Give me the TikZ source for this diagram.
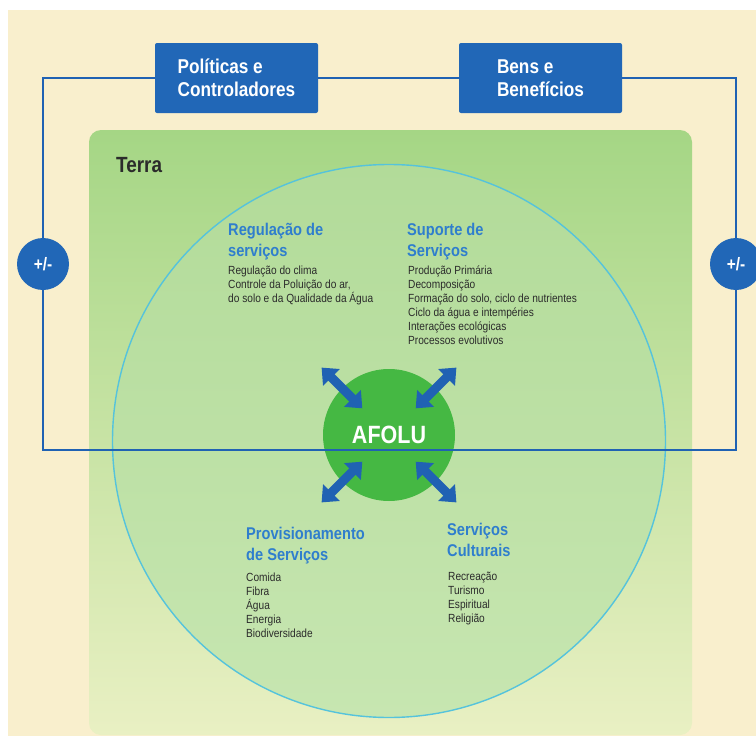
\documentclass[tikz,border=0pt]{standalone}
\usepackage{fontspec}
\setmainfont{Liberation Sans}[FakeStretch=0.86]
\usetikzlibrary{arrows.meta,calc}

\definecolor{cream}{HTML}{F9EFCD}
\definecolor{boxblue}{HTML}{2167B7}
\definecolor{lineblue}{HTML}{2062B3}
\definecolor{headblue}{HTML}{2F7ECD}
\definecolor{darktext}{HTML}{2B2B2B}
\definecolor{terratop}{HTML}{A5D685}
\definecolor{terrabottom}{HTML}{E9F0C3}
\definecolor{ringtop}{HTML}{B2DB99}
\definecolor{ringbottom}{HTML}{C7E6B1}
\definecolor{ringline}{HTML}{55C3DC}
\definecolor{afolugreen}{HTML}{45B843}

\tikzset{
  bluebox/.style={fill=boxblue, rounded corners=2pt, minimum width=163pt, minimum height=70pt,
    text=white, align=left, font=\bfseries\fontsize{20}{23}\selectfont},
  plusminus/.style={circle, fill=boxblue, minimum size=52pt, text=white,
    font=\bfseries\fontsize{18}{18}\selectfont},
  heading/.style={anchor=north west, align=left, text=headblue,
    font=\bfseries\fontsize{17}{20.5}\selectfont},
  items/.style={anchor=north west, align=left, text=darktext,
    font=\fontsize{11.8}{14}\selectfont},
  loopline/.style={draw=lineblue, line width=2.8pt},
  flow/.style={draw=lineblue, line width=9pt,
    {Triangle[width=23pt,length=14pt]}-{Triangle[width=23pt,length=14pt]}}
}

\begin{document}
\begin{tikzpicture}[x=1pt, y=-1pt, every node/.style={inner sep=0pt}]
	\useasboundingbox (0,0) rectangle (756,736);
	\fill[cream] (8,10) rectangle (756,736);

	% land and the ring of services
	\node[shading=axis, top color=terratop, bottom color=terrabottom, rounded corners=12pt,
	  minimum width=603pt, minimum height=605pt] (terra) at (390.5,432.5) {};
	\node[anchor=north west, text=darktext, font=\bfseries\fontsize{22}{22}\selectfont] (terraText) at (116,157) {Terra};
	\node[circle, shading=axis, top color=ringtop, bottom color=ringbottom, draw=ringline,
	  line width=1.4pt, minimum size=553pt] (services) at (389,441) {};

	% the four groups
	\node[heading] (regHead) at (228,223) {Regulação de\\serviços};
	\node[items] (regItems) at (228,266) {Regulação do clima\\Controle da Poluição do ar,\\do solo e da Qualidade da Água};
	\node[heading] (supHead) at (407,223) {Suporte de\\Serviços};
	\node[items] (supItems) at (408,266) {Produção Primária\\Decomposição\\Formação do solo, ciclo de nutrientes\\Ciclo da água e intempéries\\Interações ecológicas\\Processos evolutivos};
	\node[heading] (provHead) at (246,527) {Provisionamento\\de Serviços};
	\node[items] (provItems) at (246,573) {Comida\\Fibra\\Água\\Energia\\Biodiversidade};
	\node[heading] (cultHead) at (447,523) {Serviços\\Culturais};
	\node[items] (cultItems) at (448,572) {Recreação\\Turismo\\Espiritual\\Religião};

	% centre
	\node[circle, fill=afolugreen, minimum size=132pt, text=white,
	  font=\bfseries\fontsize{25}{25}\selectfont] (afolu) at (389,435) {AFOLU};
	\foreach \a in {45,135,225,315}
		\draw[flow] ($(afolu.center)!0.57!(afolu.\a)$) -- ($(afolu.center)!1.44!(afolu.\a)$);

	% feedback loop
	\node[bluebox] (politicas) at (236.5,78) {Políticas e\\Controladores};
	\node[bluebox] (bens) at (540.5,78) {Bens e\\Benefícios};
	\node[plusminus] (pmLeft) at (43,264) {+/-};
	\node[plusminus] (pmRight) at (736,264) {+/-};
	\coordinate (cornerL) at (43,450);
	\coordinate (cornerR) at (736,450);
	\draw[loopline] (pmLeft) |- (politicas.west);
	\draw[loopline] (politicas.east) -- (bens.west);
	\draw[loopline] (bens.east) -| (pmRight);
	\draw[loopline] (pmLeft) -- (cornerL) -- (cornerR) -- (pmRight);
\end{tikzpicture}
\end{document}
